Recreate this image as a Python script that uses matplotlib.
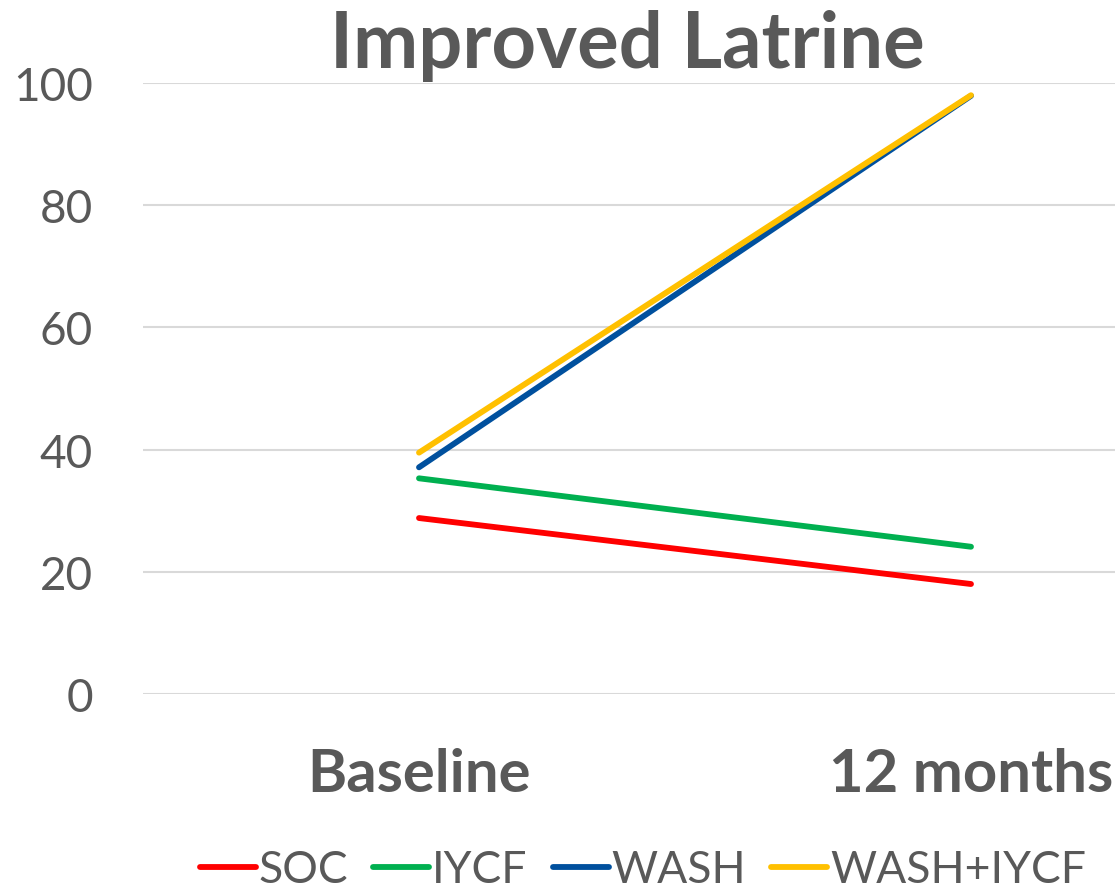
import matplotlib.pyplot as plt

# data
categories = ['Baseline', '12 months']
series_names = ['SOC', 'IYCF', 'WASH', 'WASH+IYCF']
soc = [28.8, 18.0]
iycf = [35.3, 24.1]
wash = [37.1, 97.9]
wash_iycf = [39.5, 98.0]
colors = ['#ff0000', '#00b050', '#00509e', '#ffc000']
yticks = [0, 20, 40, 60, 80, 100]

plt.rcParams['font.family'] = ['Lato', 'DejaVu Sans']
grey = '#595959'

W, H = 1115, 895
fig = plt.figure(figsize=(W / 100, H / 100), dpi=100)
# plot area runs past the right edge of the picture, like the reference
ax = fig.add_axes([143 / W, (H - 695) / H, (W - 143) / W, 611 / H])

x = list(range(len(categories)))
for vals, name, c in zip([soc, iycf, wash, wash_iycf], series_names, colors):
    ax.plot(x, vals, color=c, lw=4.2, solid_capstyle='round', label=name, zorder=3)

ax.set_xlim(-0.5, (W - 419) / 552)
ax.set_ylim(0, 100)
ax.set_yticks(yticks)
ax.set_xticks(x)
ax.set_xticklabels(categories, fontsize=43, fontweight='bold', color=grey)
ax.tick_params(axis='x', length=0, pad=38)
ax.tick_params(axis='y', length=0, pad=36, labelsize=33, labelcolor=grey)
ax.grid(axis='y', color='#d9d9d9', lw=1.5)
ax.set_axisbelow(True)
for s in ax.spines.values():
    s.set_visible(False)

fig.text(627 / W, 1 - 68 / H, 'Improved Latrine', ha='center', va='baseline',
         fontsize=56, fontweight='bold', color=grey)

leg = fig.legend(loc='center', bbox_to_anchor=(643 / W, 1 - 871 / H), ncol=4,
                 frameon=False, fontsize=32, handlelength=1.26, handletextpad=0.07,
                 columnspacing=0.56, borderpad=0)
for t in leg.get_texts():
    t.set_color(grey)

plt.savefig('out.png', dpi=100)
